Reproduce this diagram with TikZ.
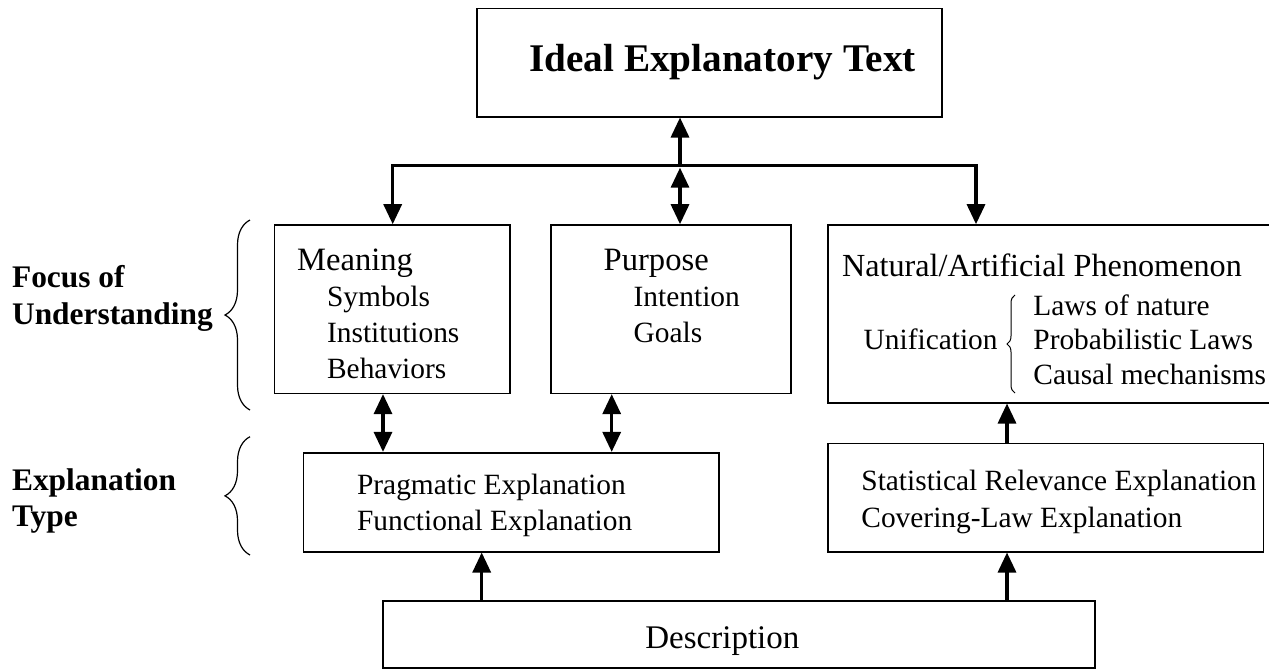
\documentclass[tikz,border=0pt]{standalone}
\usepackage{fontspec}
\setmainfont{Liberation Serif}
\usetikzlibrary{arrows.meta,fit,decorations.pathreplacing}

\begin{document}
\begin{tikzpicture}[
      x=0.5pt, y=-0.5pt,
      box/.style={draw, line width=0.8pt, inner sep=0pt},
      txt/.style={anchor=base west, inner sep=0pt},
      ttl/.style={txt, font=\fontsize{19.6pt}{22pt}\selectfont\bfseries},
      side/.style={txt, font=\fontsize{15.7pt}{18pt}\selectfont\bfseries},
      head/.style={txt, font=\fontsize{16.3pt}{18pt}\selectfont},
      item/.style={txt, font=\fontsize{14.7pt}{17pt}\selectfont},
      arr/.style={-{Triangle[length=10pt,width=9pt]}, line width=1.6pt},
      arrb/.style={{Triangle[length=10pt,width=9pt]}-{Triangle[length=10pt,width=9pt]}, line width=1.6pt},
      brc/.style={decorate, line width=0.6pt},
    ]
    \useasboundingbox (0,0) rectangle (1269,670);
    % boxes
    \node[box, fit={(476.7,8.3) (941.7,116.7)}] (ideal) {};
    \node[box, fit={(274.3,225) (510,393.3)}] (meaning) {};
    \node[box, fit={(550.7,225) (790.7,393.3)}] (purpose) {};
    \node[box, fit={(827.7,225) (1272,402.7)}] (natural) {};
    \node[box, fit={(303.3,452.7) (719,551.7)}] (prag) {};
    \node[box, fit={(827.7,443.3) (1263.3,551.7)}] (stat) {};
    \node[box, fit={(382.7,601) (1095,668)}] (descr) {};
    % texts
    \node[ttl] (idealtxt) at (529,71) {Ideal Explanatory Text};
    \node[side] (focus1) at (11.7,287.3) {Focus of};
    \node[side] (focus2) at (11.7,324) {Understanding};
    \node[side] (type1) at (11.7,490.7) {Explanation};
    \node[side] (type2) at (11.7,526.7) {Type};
    \node[head] (meaningtxt) at (296.7,270) {Meaning};
    \foreach \t [count=\i] in {Symbols,Institutions,Behaviors}
      \node[item] (mitem\i) at (326.7,{306.7+36*(\i-1)}) {\t};
    \node[head] (purposetxt) at (603.3,270.7) {Purpose};
    \foreach \t [count=\i] in {Intention,Goals}
      \node[item] (pitem\i) at (633.3,{306.7+36*(\i-1)}) {\t};
    \node[head, font=\fontsize{16.1pt}{18pt}\selectfont] (naturaltxt) at (841.7,276) {Natural/Artificial Phenomenon};
    \node[item] (unif) at (863.3,349.3) {Unification};
    \foreach \t [count=\i] in {Laws of nature,Probabilistic Laws,Causal mechanisms}
      \node[item] (law\i) at (1033,{315+34.5*(\i-1)}) {\t};
    \node[item] (pragtxt1) at (356.7,494.3) {Pragmatic Explanation};
    \node[item] (pragtxt2) at (356.7,530) {Functional Explanation};
    \node[item] (stattxt1) at (861,490) {Statistical Relevance Explanation};
    \node[item] (stattxt2) at (861,527.7) {Covering-Law Explanation};
    \node[head, font=\fontsize{16.5pt}{18pt}\selectfont] (descrtxt) at (645,648) {Description};
    % braces
    \draw[brc, decoration={brace, amplitude=12.5pt}] (250,410) -- (250,220);
    \draw[brc, decoration={brace, amplitude=12.5pt}] (250,555) -- (250,436.7);
    \draw[brc, decoration={brace, amplitude=4pt}, line width=0.5pt] (1015,393) -- (1015,295);
    % connectors
    \coordinate (busl) at (392.7,165.7);
    \coordinate (busr) at (976,165.7);
    \coordinate (busm) at (680,165.7);
    \path (383,0) coordinate (xa) (611.7,0) coordinate (xb)
          (481.7,0) coordinate (xc) (1007,0) coordinate (xd);
    \draw[arrb] (busl |- meaning.north) -- (busl) -- (busr) -- (busr |- natural.north);
    \draw[arr] (busm) -- (busm |- ideal.south);
    \draw[arrb] ([yshift=-1pt]busm) -- (busm |- purpose.north);
    \draw[arrb] (xa |- meaning.south) -- (xa |- prag.north);
    \draw[arrb] (xb |- purpose.south) -- (xb |- prag.north);
    \draw[arr] (xc |- descr.north) -- (xc |- prag.south);
    \draw[arr] (xd |- descr.north) -- (xd |- stat.south);
    \draw[arr] (xd |- stat.north) -- (xd |- natural.south);
  \end{tikzpicture}
\end{document}
